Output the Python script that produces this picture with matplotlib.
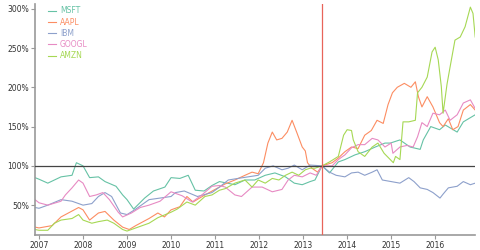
import matplotlib
matplotlib.use("Agg")
import matplotlib.pyplot as plt

# decimal years / value in % (normalised at the red line date)
msft_t = [2006.91, 2007.0, 2007.2, 2007.5, 2007.75, 2007.85, 2008.0, 2008.15, 2008.35, 2008.5,
          2008.75, 2008.9, 2009.0, 2009.15, 2009.4, 2009.6, 2009.86, 2010.0, 2010.2, 2010.39,
          2010.55, 2010.75, 2010.93, 2011.1, 2011.45, 2011.68, 2011.9, 2012.14, 2012.36, 2012.6,
          2012.8, 2012.98, 2013.16, 2013.27, 2013.43, 2013.6, 2013.8, 2013.95, 2014.18, 2014.4,
          2014.64, 2014.86, 2014.98, 2015.2, 2015.43, 2015.66, 2015.73, 2015.9, 2016.1, 2016.23,
          2016.5, 2016.64, 2016.91]
msft_v = [85, 83, 78, 86, 88, 104, 100, 85, 86, 80,
          74, 63, 57, 45, 59, 68, 73, 85, 84, 88,
          69, 68, 75, 80, 76, 82, 82, 88, 91, 86,
          78, 76, 80, 82, 100, 91, 105, 108, 114, 118,
          124, 129, 129, 133, 124, 121, 133, 150, 146, 152,
          143, 156, 165]

aapl_t = [2006.91, 2007.0, 2007.3, 2007.5, 2007.7, 2007.9, 2008.0, 2008.15, 2008.35, 2008.5,
          2008.7, 2008.9, 2009.05, 2009.2, 2009.5, 2009.7, 2009.85, 2010.0, 2010.2, 2010.36,
          2010.5, 2010.77, 2011.0, 2011.23, 2011.45, 2011.68, 2011.84, 2011.98, 2012.1, 2012.2,
          2012.3, 2012.4, 2012.52, 2012.64, 2012.75, 2012.86, 2012.98, 2013.05, 2013.1, 2013.2,
          2013.33, 2013.43, 2013.66, 2013.8, 2013.95, 2014.1, 2014.25, 2014.4, 2014.55, 2014.68,
          2014.82, 2014.93, 2015.03, 2015.14, 2015.3, 2015.45, 2015.55, 2015.62, 2015.7, 2015.82,
          2015.95, 2016.1, 2016.18, 2016.3, 2016.4, 2016.52, 2016.64, 2016.8, 2016.91]
aapl_v = [22, 21, 24, 35, 41, 47, 44, 31, 40, 42,
          31, 22, 19, 24, 33, 40, 35, 44, 48, 61,
          54, 63, 70, 77, 82, 88, 92, 90, 104, 129,
          143, 133, 135, 143, 158, 142, 124, 119, 104, 97,
          92, 100, 104, 110, 118, 124, 122, 139, 145, 158,
          154, 178, 193, 200, 205, 200, 207, 188, 175, 188,
          175, 155, 150, 160, 146, 150, 171, 178, 171]

ibm_t = [2006.91, 2007.0, 2007.2, 2007.5, 2007.75, 2008.0, 2008.2, 2008.35, 2008.5, 2008.65,
         2008.85, 2009.0, 2009.2, 2009.5, 2009.75, 2010.0, 2010.1, 2010.3, 2010.6, 2010.93,
         2011.1, 2011.3, 2011.52, 2011.75, 2011.98, 2012.14, 2012.32, 2012.52, 2012.66, 2012.8,
         2012.98, 2013.16, 2013.43, 2013.6, 2013.75, 2013.95, 2014.1, 2014.25, 2014.4, 2014.57,
         2014.68, 2014.8, 2015.0, 2015.2, 2015.4, 2015.52, 2015.66, 2015.82, 2015.95, 2016.11,
         2016.18, 2016.3, 2016.5, 2016.64, 2016.8, 2016.91]
ibm_v = [47, 46, 50, 57, 55, 50, 52, 61, 66, 61,
         40, 38, 45, 57, 59, 61, 66, 68, 61, 66,
         73, 82, 84, 86, 88, 97, 100, 95, 97, 101,
         95, 101, 100, 92, 88, 86, 91, 92, 88, 92,
         95, 82, 80, 78, 85, 80, 72, 70, 66, 59,
         64, 72, 74, 80, 76, 78]

googl_t = [2006.91, 2007.0, 2007.2, 2007.5, 2007.6, 2007.75, 2007.9, 2008.0, 2008.15, 2008.3,
           2008.45, 2008.6, 2008.8, 2008.9, 2009.1, 2009.3, 2009.5, 2009.75, 2010.0, 2010.25,
           2010.48, 2010.7, 2010.93, 2011.1, 2011.23, 2011.45, 2011.6, 2011.84, 2012.07, 2012.3,
           2012.52, 2012.66, 2012.8, 2012.98, 2013.16, 2013.3, 2013.43, 2013.66, 2013.8, 2013.95,
           2014.1, 2014.25, 2014.4, 2014.57, 2014.7, 2014.86, 2015.0, 2015.04, 2015.2, 2015.36,
           2015.5, 2015.6, 2015.7, 2015.82, 2015.95, 2016.1, 2016.23, 2016.34, 2016.5, 2016.64,
           2016.8, 2016.91]
googl_v = [57, 53, 50, 55, 63, 72, 82, 78, 61, 63,
           66, 57, 41, 35, 40, 47, 50, 55, 67, 62,
           54, 63, 74, 75, 73, 63, 61, 73, 73, 67,
           70, 82, 88, 86, 91, 88, 100, 100, 108, 114,
           123, 127, 127, 135, 133, 124, 129, 116, 124, 126,
           124, 137, 155, 150, 167, 165, 171, 158, 165, 180,
           184, 173]

amzn_t = [2006.91, 2007.0, 2007.2, 2007.35, 2007.5, 2007.75, 2007.9, 2008.0, 2008.2, 2008.35,
          2008.55, 2008.7, 2008.9, 2009.0, 2009.2, 2009.5, 2009.7, 2010.0, 2010.14, 2010.36,
          2010.55, 2010.77, 2010.93, 2011.1, 2011.23, 2011.45, 2011.68, 2011.84, 2011.98, 2012.14,
          2012.3, 2012.45, 2012.6, 2012.75, 2012.9, 2013.05, 2013.16, 2013.27, 2013.43, 2013.6,
          2013.8, 2013.92, 2014.0, 2014.1, 2014.14, 2014.25, 2014.4, 2014.57, 2014.7, 2014.84,
          2014.98, 2015.05, 2015.1, 2015.2, 2015.27, 2015.4, 2015.55, 2015.6, 2015.7, 2015.82,
          2015.93, 2016.0, 2016.07, 2016.14, 2016.18, 2016.27, 2016.34, 2016.45, 2016.57, 2016.68,
          2016.8, 2016.86, 2016.91]
amzn_v = [19, 18, 18, 27, 31, 33, 38, 31, 27, 29,
          31, 27, 19, 17, 21, 27, 34, 41, 45, 54,
          50, 61, 63, 69, 71, 78, 82, 73, 82, 78,
          84, 82, 88, 92, 88, 95, 97, 97, 100, 105,
          112, 139, 146, 145, 133, 118, 112, 124, 129, 116,
          108, 104, 112, 108, 156, 156, 158, 193, 200, 213,
          245, 251, 235, 201, 167, 204, 226, 260, 264, 277,
          302, 294, 264]

names = ["MSFT", "AAPL", "IBM", "GOOGL", "AMZN"]
colors = ["#66c2a5", "#fc8d62", "#8da0cb", "#e78ac3", "#a6d854"]
years = list(range(2007, 2017))
y_ticks = [50, 100, 150, 200, 250, 300]
base_date = 2013.43

fig = plt.figure(figsize=(4.8, 2.5), dpi=100)
ax = fig.add_axes([0.073, 0.06, 0.917, 0.924])

series = [(msft_t, msft_v), (aapl_t, aapl_v), (ibm_t, ibm_v), (googl_t, googl_v), (amzn_t, amzn_v)]
for (t, v), name, c in zip(series, names, colors):
    ax.plot(t, v, color=c, lw=0.8, label=name)

ax.axhline(100, color="#444444", lw=0.9, zorder=3)
ax.axvline(base_date, color="#e8645a", lw=0.9, zorder=3)

ax.set_xlim(2006.91, 2016.91)
ax.set_ylim(12, 306)
ax.set_xticks(years)
ax.set_xticklabels([str(y) for y in years])
ax.set_yticks(y_ticks)
ax.set_yticklabels([str(y) + "%" for y in y_ticks])

for s in ["top", "right"]:
    ax.spines[s].set_visible(False)
for s in ["left", "bottom"]:
    ax.spines[s].set_color("#999999")
    ax.spines[s].set_linewidth(1.2)
ax.tick_params(axis="both", labelsize=5.5, colors="#999999", labelcolor="#333333",
               length=3, width=0.8, pad=1.5)

leg = ax.legend(loc="upper left", bbox_to_anchor=(0.02, 1.01), frameon=False, fontsize=5.5,
                handlelength=1.0, handletextpad=0.5, labelspacing=0.3, labelcolor="linecolor",
                borderaxespad=0.2)

fig.savefig("out.png", dpi=100)
